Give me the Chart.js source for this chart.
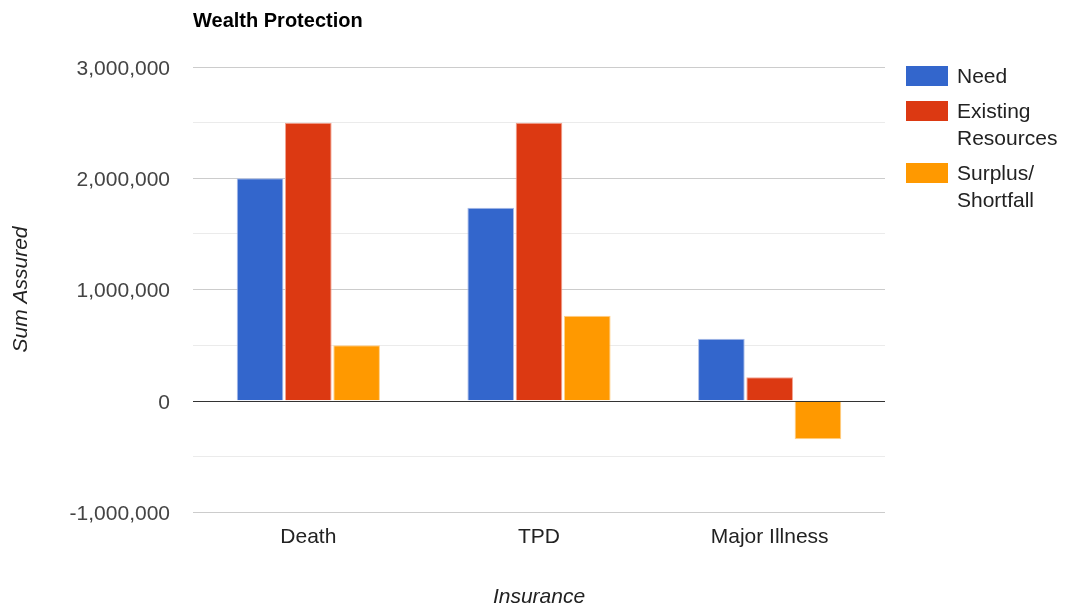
<!DOCTYPE html>
<html>
<head>
<meta charset="utf-8">
<title>Wealth Protection</title>
<script src="https://cdn.jsdelivr.net/npm/chart.js@4.4.1/dist/chart.umd.min.js"></script>
<style>
  html, body { margin: 0; padding: 0; background: #fff; }
  #wrap { width: 1065px; height: 610px; }
</style>
</head>
<body>
<div id="wrap"><canvas id="chart" width="1065" height="610"></canvas></div>
<script>
// Insurance categories and the three series (sum assured)
const categories = ['Death', 'TPD', 'Major Illness'];
const seriesNames = ['Need', 'Existing Resources', 'Surplus/Shortfall'];
const legendLines = [['Need'], ['Existing', 'Resources'], ['Surplus/', 'Shortfall']];
const need = [2000000, 1735000, 558000];
const existing = [2500000, 2500000, 212000];
const surplus = [500000, 765000, -346000];

const chartTitle = 'Wealth Protection';
const yTitle = 'Sum Assured';
const xTitle = 'Insurance';
const yMin = -1000000, yMax = 3000000, yStep = 500000, labelStep = 1000000;

const colors = ['#3366cc', '#dc3912', '#ff9900'];
const strokes = ['#a9bce8', '#f2a391', '#ffd08a'];
const FONT = '"Liberation Sans", Arial, sans-serif';

// Title, baseline and wrapped legend drawn directly on the canvas
const decorations = {
  id: 'decorations',
  afterDatasetsDraw(chart) {
    const { ctx, chartArea, scales } = chart;
    ctx.save();
    // zero baseline on top of the bars
    const y0 = Math.round(scales.y.getPixelForValue(0)) + 0.5;
    ctx.strokeStyle = '#333333';
    ctx.lineWidth = 1;
    ctx.beginPath();
    ctx.moveTo(chartArea.left, y0);
    ctx.lineTo(chartArea.right, y0);
    ctx.stroke();
    ctx.restore();
  },
  afterDraw(chart) {
    const { ctx, chartArea } = chart;
    ctx.save();
    ctx.fillStyle = '#000000';
    ctx.font = 'bold 20px ' + FONT;
    ctx.textAlign = 'left';
    ctx.textBaseline = 'middle';
    ctx.fillText(chartTitle, chartArea.left, 21);

    // legend
    const boxX = chartArea.right + 21, boxW = 42, boxH = 20;
    const textX = boxX + 51;
    const lineH = 27;
    let y = 76;
    ctx.font = '21px ' + FONT;
    chart.data.datasets.forEach((ds, i) => {
      const lines = legendLines[i];
      ctx.fillStyle = ds.backgroundColor;
      ctx.fillRect(boxX, y - boxH / 2, boxW, boxH);
      ctx.fillStyle = '#222222';
      lines.forEach((ln, k) => ctx.fillText(ln, textX, y + 1 + k * lineH));
      y += lines.length * lineH + 8;
    });
    ctx.restore();
  }
};

const gridColor = (c) => {
  const v = c.tick ? c.tick.value : 0;
  if (v === 0) return 'rgba(0,0,0,0)';
  return (v % labelStep === 0) ? '#cccccc' : '#ebebeb';
};

new Chart(document.getElementById('chart'), {
  type: 'bar',
  data: {
    labels: categories,
    datasets: [need, existing, surplus].map((vals, i) => ({
      label: seriesNames[i],
      data: vals,
      backgroundColor: colors[i],
      borderColor: strokes[i],
      borderWidth: 1,
      categoryPercentage: 0.628,
      barPercentage: 0.966
    }))
  },
  options: {
    responsive: false,
    animation: false,
    layout: { padding: { top: 67, right: 180, bottom: 0, left: 0 } },
    plugins: {
      legend: { display: false },
      title: { display: false },
      tooltip: { enabled: false }
    },
    scales: {
      x: {
        grid: { display: false, drawTicks: false },
        border: { display: false },
        ticks: { color: '#222222', font: { family: FONT, size: 21 }, padding: 13, maxRotation: 0 },
        title: { display: true, text: xTitle, color: '#222222', padding: { top: 0, bottom: 0 },
                 font: { family: FONT, size: 21, style: 'italic' } },
        afterFit(scale) { scale.height = 98; }
      },
      y: {
        min: yMin,
        max: yMax,
        grid: { color: gridColor, drawTicks: false, lineWidth: 1 },
        border: { display: false },
        ticks: {
          stepSize: yStep,
          padding: 23,
          labelOffset: 2,
          color: '#444444',
          font: { family: FONT, size: 21 },
          callback: (v) => (v % labelStep === 0 ? v.toLocaleString('en-US') : '')
        },
        title: { display: true, text: yTitle, color: '#222222', padding: { top: 9, bottom: 0 },
                 font: { family: FONT, size: 21, style: 'italic' } },
        afterFit(scale) { scale.width = 193; }
      }
    }
  },
  plugins: [decorations]
});
</script>
</body>
</html>
